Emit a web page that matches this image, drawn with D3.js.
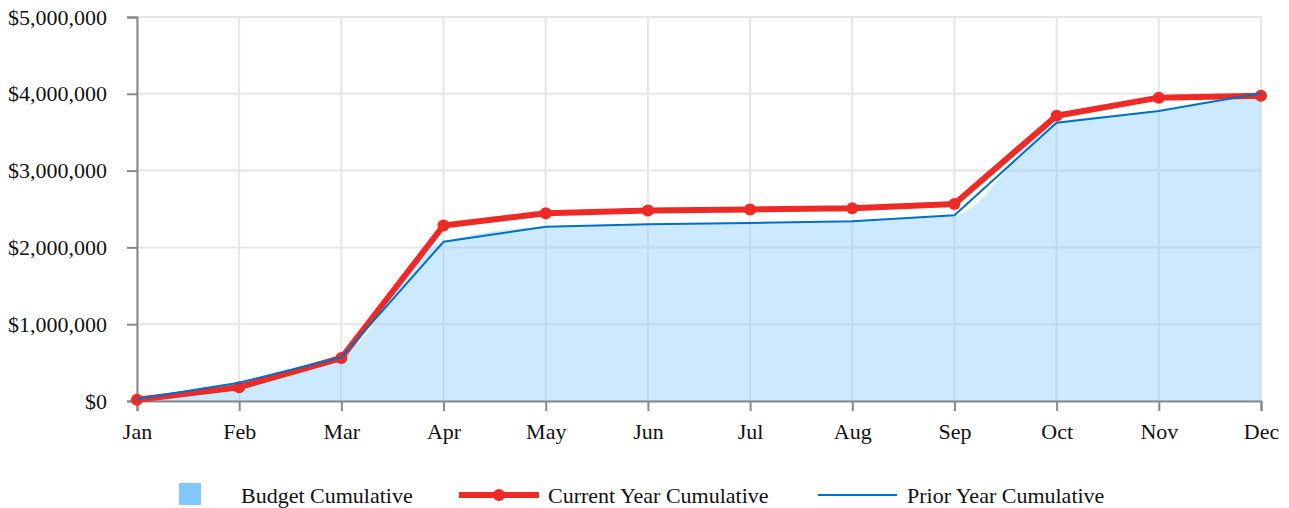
<!DOCTYPE html>
<html>
<head>
<meta charset="utf-8">
<script src="https://cdn.jsdelivr.net/npm/d3@7"></script>
<style>
  body { margin: 0; background: #fff; }
  text { font-family: "Liberation Serif", "Times New Roman", serif; fill: #111; }
</style>
</head>
<body>
<div id="chart"></div>
<script>
var months = ["Jan", "Feb", "Mar", "Apr", "May", "Jun", "Jul", "Aug", "Sep", "Oct", "Nov", "Dec"];
var budgetCum = [25000, 235000, 570000, 2075000, 2270000, 2300000, 2320000, 2345000, 2415000, 3625000, 3775000, 4000000];
var currentCum = [15000, 180000, 560000, 2285000, 2445000, 2480000, 2495000, 2510000, 2565000, 3715000, 3950000, 3975000];
var priorCum = [25000, 238000, 569000, 2074000, 2270000, 2300000, 2318000, 2340000, 2418000, 3624000, 3776000, 4006000];
var yTicks = [0, 1000000, 2000000, 3000000, 4000000, 5000000];

var width = 1289, height = 508;
var margin = { left: 137, right: 28, top: 17, bottom: 107 };

var svg = d3.select("#chart").append("svg")
    .attr("width", width)
    .attr("height", height);

var x = d3.scalePoint()
    .domain(months)
    .range([margin.left, width - margin.right]);

var y = d3.scaleLinear()
    .domain([0, 5000000])
    .range([height - margin.bottom, margin.top]);

var fmt = d3.format("$,");

// grid
svg.append("g").selectAll("line.vg")
    .data(months)
    .enter().append("line")
    .attr("x1", function (d) { return x(d); })
    .attr("x2", function (d) { return x(d); })
    .attr("y1", y(0))
    .attr("y2", y(5000000))
    .style("stroke", "#e6e6e6")
    .style("stroke-width", 2);

svg.append("g").selectAll("line.hg")
    .data(yTicks)
    .enter().append("line")
    .attr("x1", x("Jan"))
    .attr("x2", x("Dec"))
    .attr("y1", function (d) { return y(d); })
    .attr("y2", function (d) { return y(d); })
    .style("stroke", "#e6e6e6")
    .style("stroke-width", 2);

// budget area
var area = d3.area()
    .x(function (d, i) { return x(months[i]); })
    .y0(y(0))
    .y1(function (d) { return y(d); })
    .curve(d3.curveMonotoneX);

svg.append("path")
    .datum(budgetCum)
    .attr("d", area)
    .style("fill", "#80c8ff")
    .style("fill-opacity", 0.4);

// axes
var xAxis = svg.append("g")
    .attr("transform", "translate(0," + y(0) + ")")
    .call(d3.axisBottom(x).tickSize(10).tickPadding(12));

var yAxis = svg.append("g")
    .attr("transform", "translate(" + margin.left + ",0)")
    .call(d3.axisLeft(y).tickValues(yTicks).tickFormat(fmt).tickSize(10).tickPadding(20));

[xAxis, yAxis].forEach(function (ax) {
    ax.select(".domain").style("stroke", "#888").style("stroke-width", 2);
    ax.selectAll(".tick line").style("stroke", "#888").style("stroke-width", 2);
    ax.selectAll(".tick text")
        .style("font-family", "'Liberation Serif', serif")
        .style("font-size", "22px")
        .style("fill", "#111");
});
yAxis.selectAll(".tick text").attr("dy", "0.32em");

var line = d3.line()
    .x(function (d, i) { return x(months[i]); })
    .y(function (d) { return y(d); });

// current year
svg.append("path")
    .datum(currentCum)
    .attr("d", line)
    .style("fill", "none")
    .style("stroke", "#ee2a27")
    .style("stroke-width", 6)
    .style("stroke-linejoin", "round");

svg.append("g").selectAll("circle")
    .data(currentCum)
    .enter().append("circle")
    .attr("cx", function (d, i) { return x(months[i]); })
    .attr("cy", function (d) { return y(d); })
    .attr("r", 6)
    .style("fill", "#ee2a27");

// prior year
svg.append("path")
    .datum(priorCum)
    .attr("d", line)
    .style("fill", "none")
    .style("stroke", "#0070c6")
    .style("stroke-width", 2);

// legend
var leg = svg.append("g");
leg.append("rect")
    .attr("x", 179).attr("y", 483)
    .attr("width", 22).attr("height", 22)
    .style("fill", "#80c8ff");
leg.append("text")
    .attr("x", 241).attr("y", 503)
    .style("font-size", "22px")
    .text("Budget Cumulative");

leg.append("line")
    .attr("x1", 459).attr("x2", 539)
    .attr("y1", 495).attr("y2", 495)
    .style("stroke", "#ee2a27")
    .style("stroke-width", 6);
leg.append("circle")
    .attr("cx", 499).attr("cy", 495).attr("r", 6)
    .style("fill", "#ee2a27");
leg.append("text")
    .attr("x", 548).attr("y", 503)
    .style("font-size", "22px")
    .text("Current Year Cumulative");

leg.append("line")
    .attr("x1", 818).attr("x2", 897)
    .attr("y1", 495).attr("y2", 495)
    .style("stroke", "#0070c6")
    .style("stroke-width", 2);
leg.append("text")
    .attr("x", 907).attr("y", 503)
    .style("font-size", "22px")
    .text("Prior Year Cumulative");
</script>
</body>
</html>
